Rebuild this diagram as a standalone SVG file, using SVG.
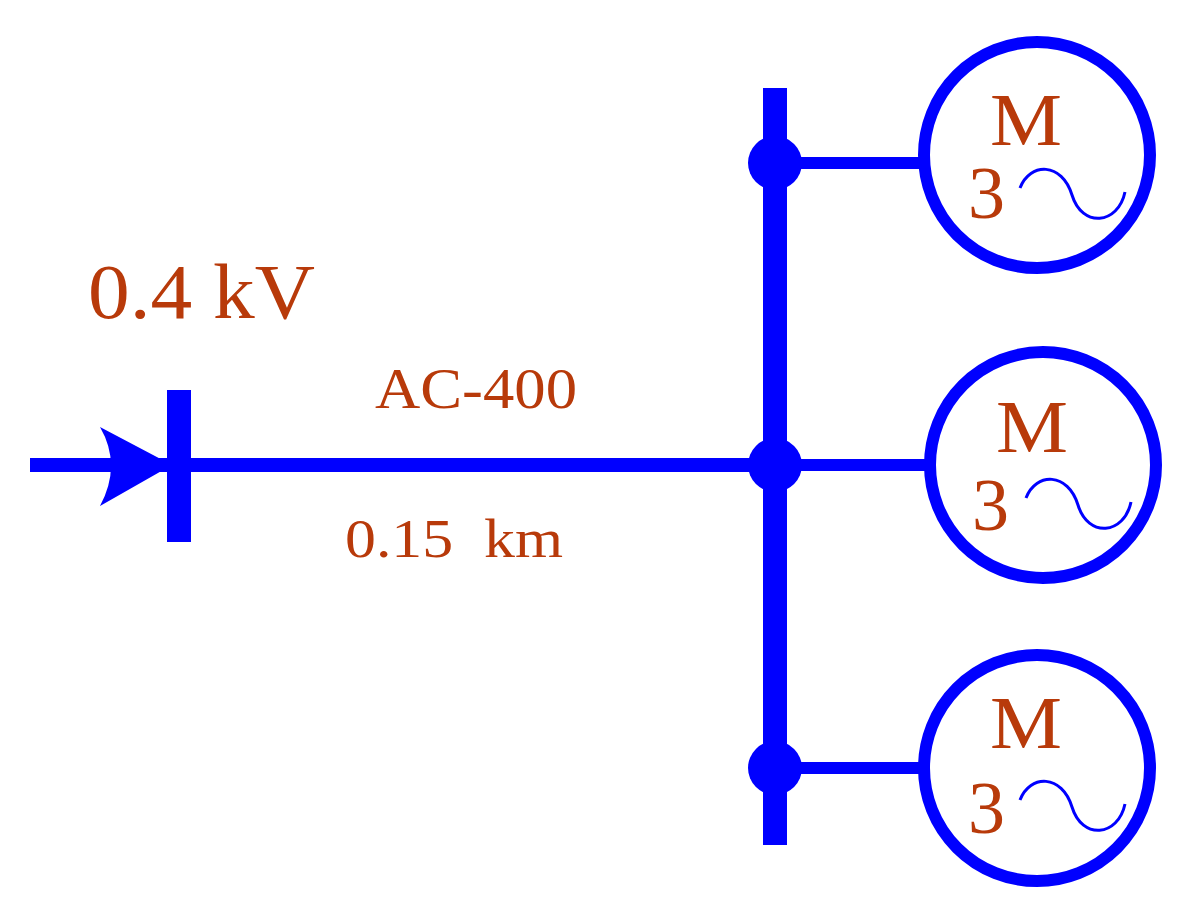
<svg xmlns="http://www.w3.org/2000/svg" width="1186" height="915" viewBox="0 0 1186 915">
<style>
.w{stroke:#0000FF;fill:none}
.t{fill:#B83A0A;font-family:"Liberation Serif",serif}
.c{stroke:#0000FF;fill:none;stroke-width:12}
.s{stroke:#0000FF;fill:none;stroke-width:3}
.m{font-size:74px}
</style>
<rect width="1186" height="915" fill="#fff"/>
<g id="connectors">
<line class="w" x1="30" y1="465" x2="170" y2="465" stroke-width="14"/>
<path d="M100,427 L172,465 L100,506 Q122,465 100,427 Z" fill="#0000FF"/>
<line class="w" x1="179" y1="390" x2="179" y2="542" stroke-width="24"/>
<line class="w" x1="179" y1="465" x2="775" y2="465" stroke-width="14"/>
<line class="w" x1="775" y1="88" x2="775" y2="845" stroke-width="24"/>
<line class="w" x1="775" y1="163" x2="922" y2="163" stroke-width="12"/>
<line class="w" x1="775" y1="465" x2="930" y2="465" stroke-width="12"/>
<line class="w" x1="775" y1="768" x2="922" y2="768" stroke-width="12"/>
<circle cx="775" cy="163" r="27" fill="#0000FF"/>
<circle cx="775" cy="465" r="27" fill="#0000FF"/>
<circle cx="775" cy="768" r="27" fill="#0000FF"/>
</g>
<g id="labels">
<text class="t" x="88" y="318" font-size="78" textLength="227" lengthAdjust="spacingAndGlyphs">0.4 kV</text>
<text class="t" x="375" y="408" font-size="56" textLength="202" lengthAdjust="spacingAndGlyphs">AC-400</text>
<text class="t" x="345" y="557" font-size="54" textLength="218" lengthAdjust="spacingAndGlyphs" xml:space="preserve">0.15  km</text>
</g>
<g id="motor1">
<circle class="c" cx="1037" cy="155" r="113"/>
<text class="t m" x="990" y="145" textLength="72" lengthAdjust="spacingAndGlyphs">M</text>
<text class="t m" x="968" y="218">3</text>
<path class="s" d="M1020,188 C1030,162 1062,162 1072,195 C1082,228 1118,225 1125,192"/>
</g>
<g id="motor2">
<circle class="c" cx="1043" cy="465" r="113"/>
<text class="t m" x="996" y="452" textLength="72" lengthAdjust="spacingAndGlyphs">M</text>
<text class="t m" x="972" y="530">3</text>
<path class="s" d="M1026,498 C1036,472 1068,472 1078,505 C1088,538 1124,535 1131,502"/>
</g>
<g id="motor3">
<circle class="c" cx="1037" cy="768" r="113"/>
<text class="t m" x="990" y="748" textLength="72" lengthAdjust="spacingAndGlyphs">M</text>
<text class="t m" x="968" y="833">3</text>
<path class="s" d="M1020,800 C1030,774 1062,774 1072,807 C1082,840 1118,837 1125,804"/>
</g>
</svg>
